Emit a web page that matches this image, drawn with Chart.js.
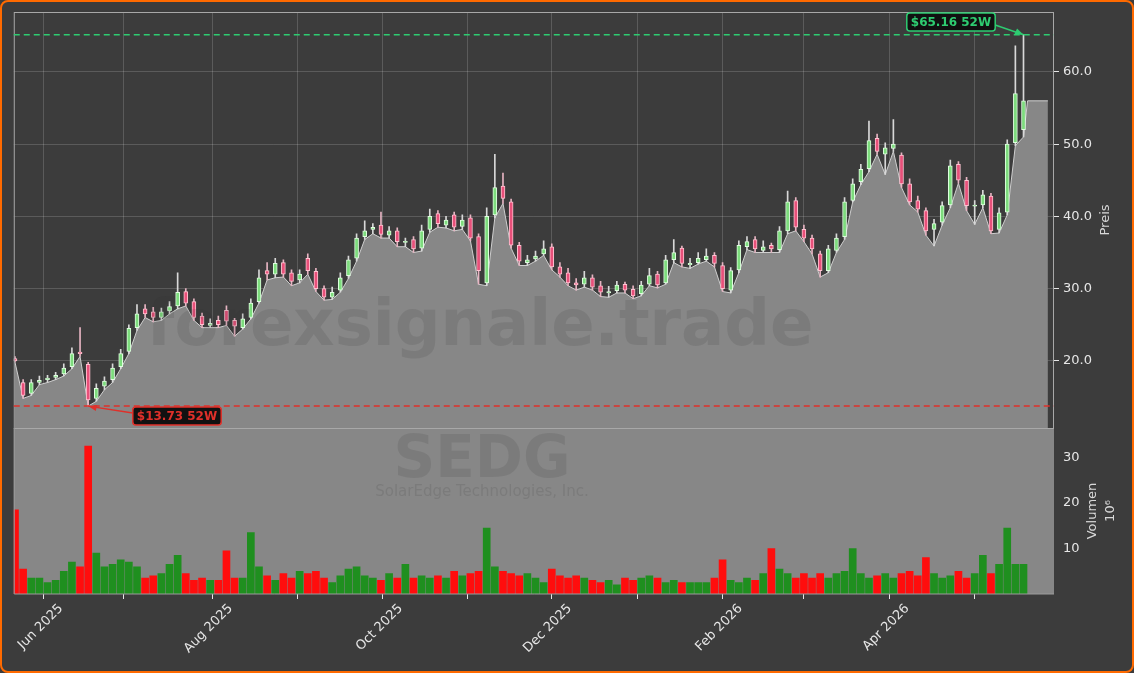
<!DOCTYPE html>
<html lang="de">
<head>
  <meta charset="UTF-8">
  <title>SEDG</title>
  <script src="https://cdn.jsdelivr.net/npm/chart.js"></script>
  <style>
    body { margin: 0; background: #3c3c3c; overflow: hidden; }
    #wrap { position: relative; width: 1134px; height: 673px; }
    #frame {
      position: absolute; left: 0; top: 0; width: 1134px; height: 673px;
      box-sizing: border-box; border: 2px solid #ff6a00; border-radius: 8px;
      pointer-events: none;
    }
  </style>
</head>
<body>
<div id="wrap">
  <canvas id="chart" width="1134" height="673"></canvas>
  <div id="frame"></div>
</div>
<script>
// trading day index (every 2nd session, 22 May 2025 -> 20 May 2026)
const days = Array.from({ length: 125 }, (_, i) => i * 2);

const opens = [20.3,17.0,15.5,17.0,17.4,17.7,18.2,19.2,21.2,19.5,14.8,16.5,17.4,19.2,21.3,24.6,27.2,26.8,26.0,26.9,
  27.6,29.6,28.2,26.2,24.9,25.6,27.0,25.6,24.6,26.0,28.2,32.5,32.0,33.6,32.2,31.2,34.2,32.4,30.0,28.8,
  29.8,31.8,34.2,37.2,38.2,38.8,37.4,38.0,36.4,36.8,35.6,38.2,40.4,38.8,40.2,38.6,39.8,37.2,30.8,40.2,
  44.2,42.0,36.0,33.6,34.1,34.8,35.8,33.0,32.2,30.8,30.6,31.5,30.4,29.4,29.7,30.6,29.9,29.3,30.6,32.0,
  30.8,34.0,35.6,33.3,33.6,34.0,34.6,33.2,29.8,32.6,35.8,36.8,35.3,36.0,35.4,38.0,42.2,38.2,37.0,34.8,
  32.5,35.3,37.2,42.2,44.8,46.6,50.8,48.6,49.4,48.5,44.5,42.2,40.8,38.2,39.2,41.6,47.2,45.0,41.4,41.6,
  42.8,38.2,40.6,50.2,52.0];
const closes = [20.0,15.2,17.0,17.3,17.6,18.0,19.0,21.0,21.0,14.6,16.2,17.2,19.0,21.0,24.5,26.5,26.5,26.0,26.8,27.5,
  29.5,28.0,26.0,25.0,25.2,25.0,25.5,24.8,25.8,28.0,31.5,32.0,33.5,32.0,31.0,32.0,32.5,30.0,28.8,29.5,
  31.5,34.0,37.0,38.0,38.5,37.5,38.0,36.5,36.5,35.5,38.0,40.0,39.0,39.5,38.5,39.5,37.0,32.5,40.0,44.0,
  42.5,36.0,33.8,34.0,34.5,35.5,33.0,32.0,30.8,30.5,31.5,30.2,29.5,29.6,30.5,29.8,29.0,30.5,31.8,30.5,
  34.0,35.0,33.5,33.5,34.2,34.5,33.5,30.0,32.5,36.0,36.5,35.5,35.8,35.5,38.0,42.0,38.5,37.0,35.5,32.5,
  35.5,37.0,42.0,44.5,46.5,50.5,49.0,49.5,50.0,44.5,42.0,41.0,38.0,39.0,41.5,47.0,45.0,41.5,41.5,43.0,
  38.0,40.5,50.0,57.0,56.0];
const highs = [20.6,17.4,17.4,17.9,18.0,18.4,19.6,21.8,24.6,19.8,16.8,17.8,19.6,21.6,25.0,27.8,27.8,27.4,27.3,28.2,
  32.2,30.0,28.6,26.6,25.8,26.2,27.6,25.9,26.5,28.6,32.6,33.6,34.2,34.0,32.6,32.6,34.8,32.8,30.4,30.2,
  32.2,34.5,37.6,39.4,39.0,40.6,38.6,38.4,37.0,37.2,38.8,41.0,40.8,40.0,40.6,40.2,40.2,37.6,41.2,48.6,
  46.0,42.4,36.4,34.6,35.2,36.6,36.2,33.6,32.8,31.4,32.4,31.9,31.0,30.3,31.0,30.9,30.4,31.0,32.8,32.4,
  34.6,36.8,35.9,34.2,35.0,35.5,35.0,33.6,32.9,36.6,37.2,37.2,36.6,36.3,38.6,43.5,42.6,38.8,37.4,35.2,
  36.0,37.6,42.6,45.2,47.2,53.2,51.4,50.2,53.4,48.8,45.2,42.8,41.2,39.6,42.0,47.8,47.6,45.4,42.2,43.6,
  43.2,41.2,50.6,63.6,65.16];
const lows = [19.8,14.8,15.2,16.7,17.0,17.4,17.9,18.9,20.6,13.73,14.4,16.0,17.0,18.9,21.0,24.2,26.0,25.4,25.6,26.5,
  27.2,27.6,25.6,24.6,24.6,24.6,24.9,23.4,24.4,25.8,28.0,31.2,31.5,31.6,30.4,30.8,32.0,29.6,28.4,28.5,
  29.5,31.4,33.8,36.8,37.6,37.0,37.0,35.8,35.8,35.0,35.2,37.8,38.5,38.4,38.0,38.2,36.6,30.6,30.4,39.8,
  41.8,35.6,33.2,33.2,33.8,34.6,32.6,31.6,30.4,29.8,30.2,29.8,28.9,28.8,29.4,29.4,28.6,29.0,30.4,30.1,
  30.6,33.6,33.0,32.8,33.4,33.8,33.0,29.6,29.4,32.2,35.4,35.0,35.0,35.0,35.0,37.6,38.0,36.5,34.8,31.6,
  32.2,35.0,36.8,42.0,44.4,46.2,48.6,45.8,49.0,44.0,41.6,40.6,37.4,35.9,38.8,41.2,44.6,40.8,38.9,41.2,
  37.6,37.7,40.2,49.8,51.0];
const volumes = [18.5,5.5,3.5,3.5,2.5,3.0,5.0,7.0,6.0,32.5,9.0,6.0,6.5,7.5,7.0,6.0,3.5,4.0,4.5,6.5,
  8.5,4.5,3.0,3.5,3.0,3.0,9.5,3.5,3.5,13.5,6.0,4.0,3.0,4.5,3.5,5.0,4.5,5.0,3.5,2.5,
  4.0,5.5,6.0,4.0,3.5,3.0,4.5,3.5,6.5,3.5,4.0,3.5,4.0,3.5,5.0,4.0,4.5,5.0,14.5,6.0,
  5.0,4.5,4.0,4.5,3.5,2.5,5.5,4.0,3.5,4.0,3.5,3.0,2.5,3.0,2.0,3.5,3.0,3.5,4.0,3.5,
  2.5,3.0,2.5,2.5,2.5,2.5,3.5,7.5,3.0,2.5,3.5,3.0,4.5,10.0,5.5,4.5,3.5,4.5,3.5,4.5,
  3.5,4.5,5.0,10.0,4.5,3.5,4.0,4.5,3.5,4.5,5.0,4.0,8.0,4.5,3.5,4.0,5.0,3.5,4.5,8.5,
  4.5,6.5,14.5,6.5,6.5];

const areaTailDays = [249, 254];
const areaTailPrice = 56.0;

const monthTickDays = [6.9, 26.8, 48.6, 69.5, 90.4, 111.3, 132, 153, 174, 194, 215, 236];
const monthTickLabels = ['Jun 2025', '', 'Aug 2025', '', 'Oct 2025', '', 'Dec 2025', '', 'Feb 2026', '', 'Apr 2026', ''];
const priceTicks = [20, 30, 40, 50, 60];
const volumeTicks = [10, 20, 30];

const high52 = 65.16, low52 = 13.73;

const up = closes.map((c, i) => c >= opens[i]);

const FONT = "'DejaVu Sans', sans-serif";
Chart.defaults.font.family = FONT;
Chart.defaults.color = '#e6e6e6';

// backgrounds, watermarks, axis titles, 52W markers
const decor = {
  id: 'decor',
  beforeDatasetsDraw(chart) {
    const { ctx, chartArea } = chart;
    const yv = chart.scales.yv;
    ctx.save();
    ctx.fillStyle = '#878787';
    ctx.fillRect(chartArea.left, yv.top, chartArea.right - chartArea.left, yv.bottom - yv.top);
    ctx.restore();
  },
  afterDatasetsDraw(chart) {
    const { ctx, chartArea } = chart;
    const x = chart.scales.x, y = chart.scales.y, yv = chart.scales.yv;
    ctx.save();
    // watermarks
    ctx.textAlign = 'center';
    ctx.textBaseline = 'middle';
    ctx.fillStyle = 'rgba(50,50,50,0.13)';
    ctx.font = `bold 64px ${FONT}`;
    ctx.fillText('forexsignale.trade', 480, 328);
    ctx.font = `bold 58px ${FONT}`;
    ctx.fillText('SEDG', 482, 462);
    ctx.font = `15px ${FONT}`;
    ctx.fillText('SolarEdge Technologies, Inc.', 482, 492);

    // axis titles (reading bottom to top)
    ctx.fillStyle = '#d8d8d8';
    ctx.font = `13px ${FONT}`;
    const vtext = (t, tx, ty) => {
      ctx.save(); ctx.translate(tx, ty); ctx.rotate(-Math.PI / 2); ctx.fillText(t, 0, 0); ctx.restore();
    };
    vtext('Preis', 1106, (y.top + y.bottom) / 2);
    vtext('Volumen', 1093, (yv.top + yv.bottom) / 2);
    vtext('10⁶', 1111, (yv.top + yv.bottom) / 2);

    // panel borders
    ctx.strokeStyle = '#a8a8a8';
    ctx.lineWidth = 1;
    ctx.strokeRect(chartArea.left + 0.5, y.top + 0.5, chartArea.right - chartArea.left - 1, y.bottom - y.top);
    ctx.strokeStyle = '#9a9a9a';
    ctx.beginPath();
    ctx.moveTo(chartArea.left + 0.5, yv.top); ctx.lineTo(chartArea.left + 0.5, yv.bottom);
    ctx.lineTo(chartArea.right, yv.bottom);
    ctx.stroke();

    const marker = (val, dayIdx, color, text, bx, by) => {
      const py = y.getPixelForValue(val);
      ctx.setLineDash([6, 4]);
      ctx.strokeStyle = color;
      ctx.lineWidth = 1.5;
      ctx.beginPath(); ctx.moveTo(chartArea.left, py); ctx.lineTo(chartArea.right, py); ctx.stroke();
      ctx.setLineDash([]);
      const tx = x.getPixelForValue(days[dayIdx]);
      ctx.font = `bold 12px ${FONT}`;
      const w = ctx.measureText(text).width + 8, h = 18;
      const sx = bx < tx ? bx + w / 2 : bx - w / 2;
      ctx.beginPath(); ctx.moveTo(sx, by + (bx < tx ? 3 : -3)); ctx.lineTo(tx, py); ctx.stroke();
      const ang = Math.atan2(py - by, tx - sx);
      ctx.fillStyle = color;
      ctx.beginPath();
      ctx.moveTo(tx, py);
      ctx.lineTo(tx - 9 * Math.cos(ang - 0.35), py - 9 * Math.sin(ang - 0.35));
      ctx.lineTo(tx - 9 * Math.cos(ang + 0.35), py - 9 * Math.sin(ang + 0.35));
      ctx.fill();
      ctx.fillStyle = '#111';
      ctx.beginPath(); ctx.roundRect(bx - w / 2, by - h / 2, w, h, 3); ctx.fill();
      ctx.lineWidth = 1.5; ctx.strokeStyle = color; ctx.stroke();
      ctx.fillStyle = color;
      ctx.textAlign = 'center'; ctx.textBaseline = 'middle';
      ctx.fillText(text, bx, by + 1);
    };
    marker(high52, highs.indexOf(high52), '#2ecc71', '$' + high52.toFixed(2) + ' 52W', 951, 22);
    marker(low52, lows.indexOf(low52), '#e0302a', '$' + low52.toFixed(2) + ' 52W', 177, 416);
    ctx.restore();
  }
};

new Chart(document.getElementById('chart'), {
  data: {
    datasets: [
      {
        type: 'line', yAxisID: 'y', order: 5,
        data: days.map((d, i) => ({ x: d, y: lows[i] }))
          .concat(areaTailDays.map(d => ({ x: d, y: areaTailPrice }))),
        borderColor: '#cfcfcf', borderWidth: 1, backgroundColor: '#878787',
        fill: 'start', pointRadius: 0, tension: 0
      },
      {
        type: 'bar', yAxisID: 'y', order: 2, grouped: false,
        data: days.map((d, i) => ({ x: d, y: [lows[i], highs[i]] })),
        backgroundColor: up.map(u => u ? '#d8d8d8' : '#e6b4c2'),
        barThickness: 1
      },
      {
        type: 'bar', yAxisID: 'y', order: 1, grouped: false,
        data: days.map((d, i) => ({ x: d, y: [opens[i], Math.abs(closes[i] - opens[i]) < 0.15 ? opens[i] + 0.15 : closes[i]] })),
        backgroundColor: up.map(u => u ? '#7ddc7d' : '#e8507a'),
        borderColor: up.map(u => u ? '#e0ffe0' : '#ffc4d2'),
        borderWidth: 1, borderSkipped: false, barThickness: 4
      },
      {
        type: 'bar', yAxisID: 'yv', order: 3, grouped: false,
        data: days.map((d, i) => ({ x: d, y: volumes[i] })),
        backgroundColor: up.map(u => u ? '#1f8f1f' : '#ff0d0d'),
        barThickness: 7
      }
    ]
  },
  options: {
    responsive: false,
    animation: false,
    layout: { padding: { left: 13, top: 12, right: 0, bottom: 0 } },
    plugins: { legend: { display: false }, tooltip: { enabled: false } },
    scales: {
      x: {
        type: 'linear', min: -0.3, max: 255.5, offset: false,
        afterBuildTicks: s => { s.ticks = monthTickDays.map(v => ({ value: v })); },
        afterFit: s => { s.height = 79; },
        ticks: {
          autoSkip: false, minRotation: 45, maxRotation: 45, font: { size: 13 }, color: '#e6e6e6',
          labelOffset: 18, padding: 2,
          callback: (v, i) => monthTickLabels[i]
        },
        grid: { offset: false, color: 'rgba(255,255,255,0.16)', tickColor: '#e6e6e6', tickLength: 5 },
        border: { display: false }
      },
      y: {
        position: 'right', stack: 'p', stackWeight: 416, min: 10.7, max: 68.3,
        afterBuildTicks: s => { s.ticks = priceTicks.map(v => ({ value: v })); },
        afterFit: s => { s.width = 80; },
        ticks: { callback: v => v.toFixed(1), font: { size: 13 }, color: '#e6e6e6', padding: 4 },
        grid: { color: 'rgba(255,255,255,0.16)', tickColor: '#e6e6e6', tickLength: 5 },
        border: { display: false }
      },
      yv: {
        position: 'right', stack: 'p', stackWeight: 166, min: 0, max: 36.5,
        afterBuildTicks: s => { s.ticks = volumeTicks.map(v => ({ value: v })); },
        afterFit: s => { s.width = 80; },
        ticks: { font: { size: 13 }, color: '#e6e6e6', padding: 4 },
        grid: { display: false, drawTicks: true, tickColor: '#e6e6e6', tickLength: 5 },
        border: { display: false }
      }
    }
  },
  plugins: [decor]
});
</script>
</body>
</html>
